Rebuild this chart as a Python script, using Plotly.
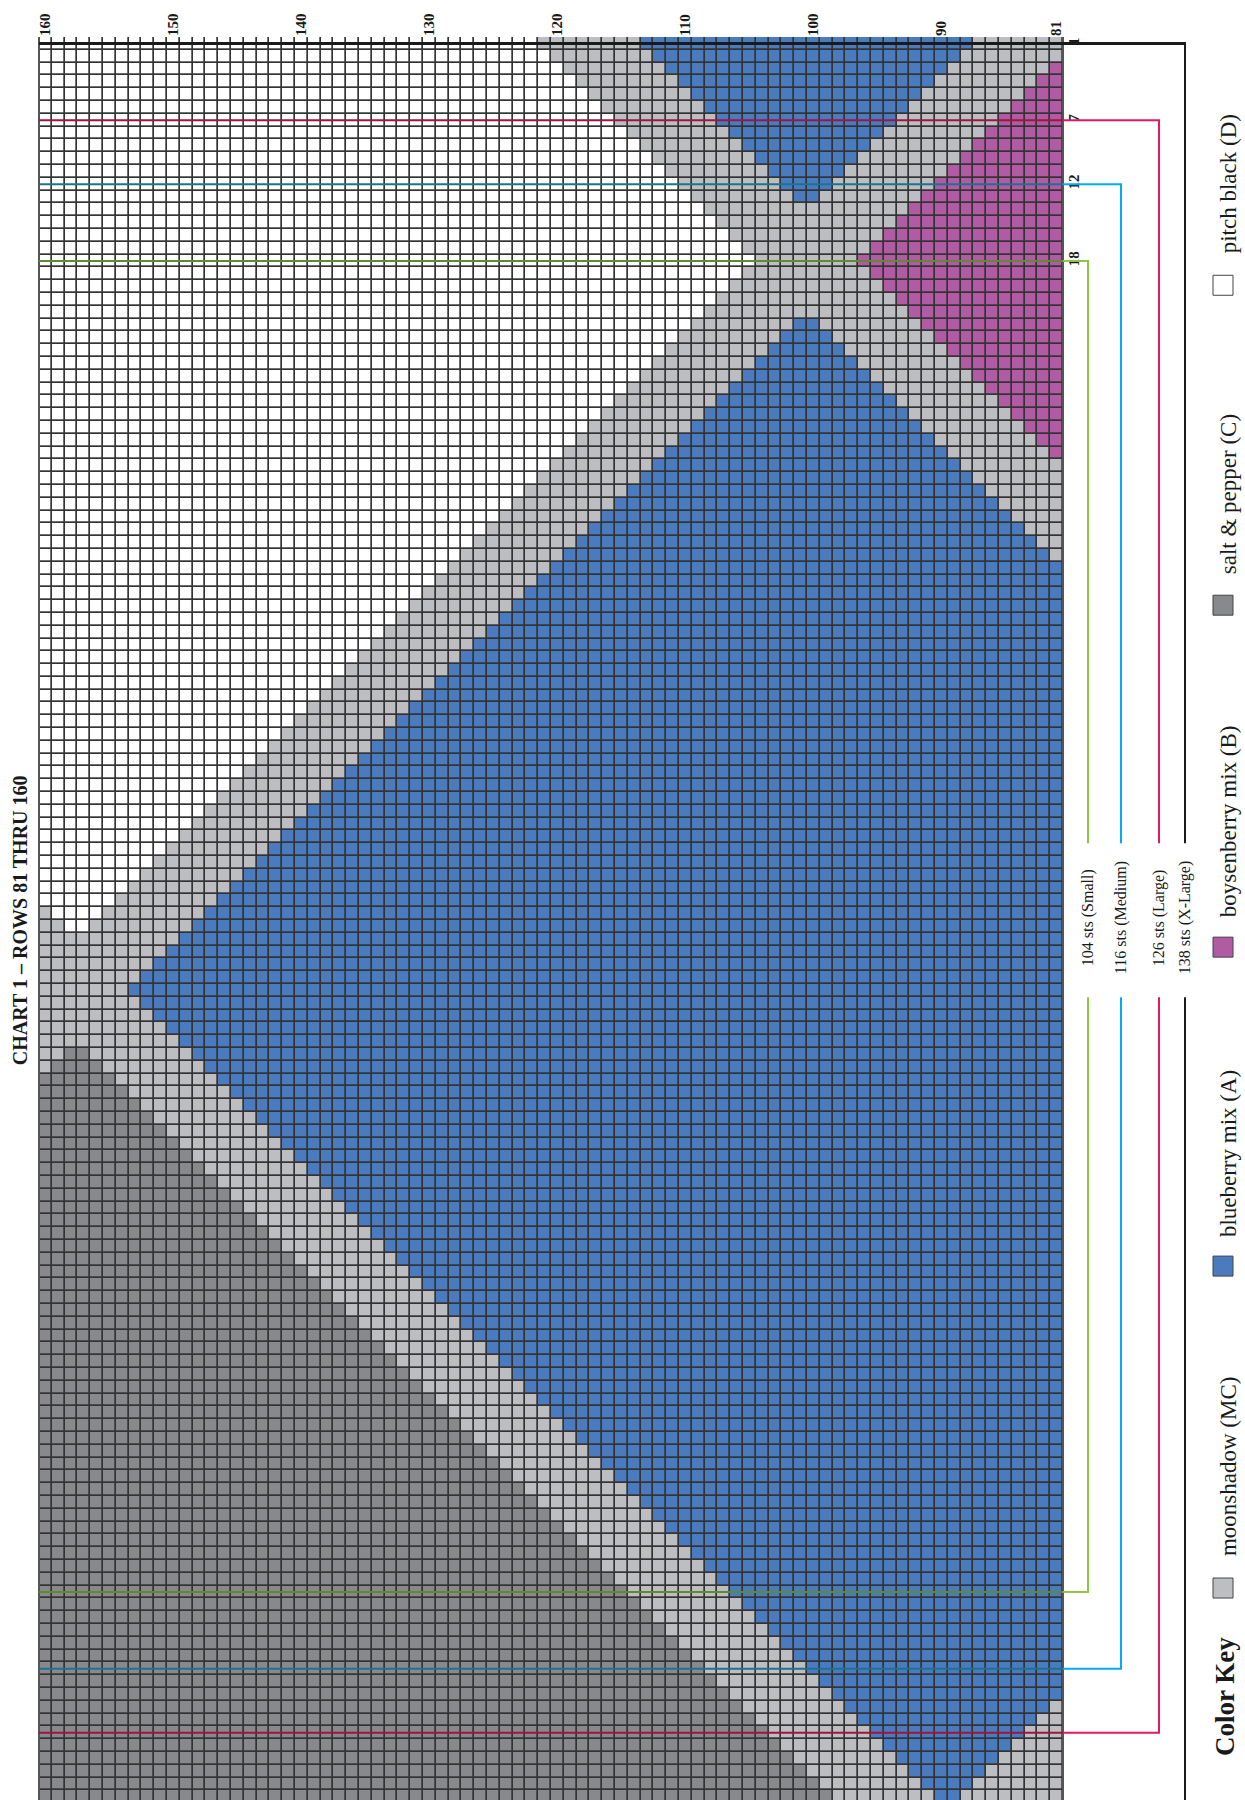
import plotly.graph_objects as go

# ---------------- data ----------------
ROWS = list(range(160, 80, -1))          # chart columns, left (row 160) to right (row 81)
STITCHES = list(range(1, 139))           # stitches 1..138, top to bottom
ROW_TICKS = [160, 150, 140, 130, 120, 110, 100, 90, 81]
STITCH_TICKS = [1, 7, 12, 18]

KEY_CODES = ["M", "A", "B", "C", "D"]
KEY_NAMES = ["moonshadow (MC)", "blueberry mix (A)", "boysenberry mix (B)",
             "salt & pepper (C)", "pitch black (D)"]
KEY_COLORS = ["#bdbec1", "#4a7bbf", "#b05ba3", "#88898d", "#ffffff"]

# colour runs for each stitch (top to bottom), read left (row 160) -> right (row 81)
CHART_RUNS = [
    "D39 M8 A26 M7", "D40 M8 A24 M8", "D41 M8 A22 M8 B1", "D42 M8 A20 M8 B2",
    "D43 M8 A18 M8 B3", "D44 M8 A16 M8 B4", "D45 M8 A14 M8 B5", "D46 M8 A12 M8 B6",
    "D47 M8 A10 M8 B7", "D48 M8 A8 M8 B8", "D49 M8 A6 M8 B9", "D50 M8 A4 M8 B10",
    "D51 M8 A2 M8 B11", "D52 M16 B12", "D53 M14 B13", "D54 M12 B14",
    "D55 M10 B15", "D56 M8 B16", "D55 M10 B15", "D54 M12 B14",
    "D53 M14 B13", "D52 M16 B12", "D51 M8 A2 M8 B11", "D50 M8 A4 M8 B10",
    "D49 M8 A6 M8 B9", "D48 M8 A8 M8 B8", "D47 M8 A10 M8 B7", "D46 M8 A12 M8 B6",
    "D45 M8 A14 M8 B5", "D44 M8 A16 M8 B4", "D43 M8 A18 M8 B3", "D42 M8 A20 M8 B2",
    "D41 M8 A22 M8 B1", "D40 M8 A24 M8", "D39 M8 A26 M7", "D38 M8 A28 M6",
    "D37 M8 A30 M5", "D36 M8 A32 M4", "D35 M8 A34 M3", "D34 M8 A36 M2",
    "D33 M8 A38 M1", "D32 M8 A40", "D31 M8 A41", "D30 M8 A42",
    "D29 M8 A43", "D28 M8 A44", "D27 M8 A45", "D26 M8 A46",
    "D25 M8 A47", "D24 M8 A48", "D23 M8 A49", "D22 M8 A50",
    "D21 M8 A51", "D20 M8 A52", "D19 M8 A53", "D18 M8 A54",
    "D17 M8 A55", "D16 M8 A56", "D15 M8 A57", "D14 M8 A58",
    "D13 M8 A59", "D12 M8 A60", "D11 M8 A61", "D10 M8 A62",
    "D9 M8 A63", "D8 M8 A64", "D7 M8 A65", "D6 M8 A66",
    "M1 D4 M8 A67", "M2 D2 M8 A68", "M11 A69", "M10 A70",
    "M9 A71", "M8 A72", "M7 A73", "M8 A72",
    "M9 A71", "M10 A70", "M11 A69", "M2 C2 M8 A68",
    "M1 C4 M8 A67", "C6 M8 A66", "C7 M8 A65", "C8 M8 A64",
    "C9 M8 A63", "C10 M8 A62", "C11 M8 A61", "C12 M8 A60",
    "C13 M8 A59", "C14 M8 A58", "C15 M8 A57", "C16 M8 A56",
    "C17 M8 A55", "C18 M8 A54", "C19 M8 A53", "C20 M8 A52",
    "C21 M8 A51", "C22 M8 A50", "C23 M8 A49", "C24 M8 A48",
    "C25 M8 A47", "C26 M8 A46", "C27 M8 A45", "C28 M8 A44",
    "C29 M8 A43", "C30 M8 A42", "C31 M8 A41", "C32 M8 A40",
    "C33 M8 A39", "C34 M8 A38", "C35 M8 A37", "C36 M8 A36",
    "C37 M8 A35", "C38 M8 A34", "C39 M8 A33", "C40 M8 A32",
    "C41 M8 A31", "C42 M8 A30", "C43 M8 A29", "C44 M8 A28",
    "C45 M8 A27", "C46 M8 A26", "C47 M8 A25", "C48 M8 A24",
    "C49 M8 A23", "C50 M8 A22", "C51 M8 A21", "C52 M8 A20",
    "C53 M8 A19", "C54 M8 A18", "C55 M8 A16 M1", "C56 M8 A14 M2",
    "C57 M8 A12 M3", "C58 M8 A10 M4", "C59 M8 A8 M5", "C60 M8 A6 M6",
    "C61 M8 A4 M7", "C62 M8 A2 M8",
]

SIZE_LABELS = ["104 sts (Small)", "116 sts (Medium)", "126 sts (Large)", "138 sts (X-Large)"]
SIZE_FIRST_ST = [18, 12, 7, 1]
SIZE_LAST_ST = [121, 127, 132, 138]
SIZE_BRIGHT = ["#8dc63f", "#00aeef", "#e5195e", "#1a1a1a"]
SIZE_DARK = ["#5d8c2c", "#1a7391", "#a0143f", "#1a1a1a"]

TITLE = "CHART 1 – ROWS 81 THRU 160"

# ---------------- build grid ----------------
code_index = {c: i for i, c in enumerate(KEY_CODES)}
Z = []
for runs in CHART_RUNS:
    row = []
    for tok in runs.split():
        row += [code_index[tok[0]]] * int(tok[1:])
    row = (row + [0] * 80)[:80]
    Z.append(row)

n = len(KEY_COLORS)
cscale = []
for i, col in enumerate(KEY_COLORS):
    cscale.append([i / n, col])
    cscale.append([(i + 1) / n, col])

# ---------------- geometry (pixels) ----------------
FIG_W, FIG_H = 1245, 1800
L, T = 39, 36.7
CELL = 12.8
W = CELL * len(ROWS)
H = FIG_H - T


def px(xp):
    return (xp - L) / W


def py(yp):
    return 1 - (yp - T) / H


def st_pix(boundary):
    return T + (boundary - 0.5) * CELL


fig = go.Figure(go.Heatmap(
    z=Z, x=ROWS, y=STITCHES, colorscale=cscale, zmin=-0.5, zmax=n - 0.5,
    showscale=False, xgap=1.7, ygap=1.7, hoverinfo="skip"))

shapes = []
# grid side edges
for xe in (0, 1):
    shapes.append(dict(type="line", xref="paper", yref="paper", x0=xe, x1=xe, y0=0, y1=1,
                       line=dict(color="#555555", width=2)))

GAP_TOP, GAP_BOT = 843, 997
VLINE_X = [1088, 1121, 1159, 1185]
for k in range(4):
    vx = VLINE_X[k]
    y_top = st_pix(SIZE_FIRST_ST[k])
    y_bot = st_pix(SIZE_LAST_ST[k] + 1)
    w = 3 if k == 3 else 2
    for yy in (y_top, y_bot):
        if yy > FIG_H:
            continue
        shapes.append(dict(type="line", xref="paper", yref="paper", x0=0, x1=1,
                           y0=py(yy), y1=py(yy), line=dict(color=SIZE_DARK[k], width=w)))
        shapes.append(dict(type="line", xref="paper", yref="paper", x0=1, x1=px(vx + 1),
                           y0=py(yy), y1=py(yy), line=dict(color=SIZE_BRIGHT[k], width=w)))
    shapes.append(dict(type="line", xref="paper", yref="paper", x0=px(vx), x1=px(vx),
                       y0=py(y_top), y1=py(GAP_TOP), line=dict(color=SIZE_BRIGHT[k], width=2)))
    shapes.append(dict(type="line", xref="paper", yref="paper", x0=px(vx), x1=px(vx),
                       y0=py(GAP_BOT), y1=py(min(y_bot, FIG_H + 5)),
                       line=dict(color=SIZE_BRIGHT[k], width=2)))

# legend swatches
KEY_SWATCH_Y = [1588, 1266, 947, 605, 285]
KEY_TEXT_Y = [1466, 1154, 821, 494, 184]
for i in range(n):
    cy = KEY_SWATCH_Y[i]
    shapes.append(dict(type="rect", xref="paper", yref="paper", x0=px(1213), x1=px(1233),
                       y0=py(cy + 10), y1=py(cy - 10), fillcolor=KEY_COLORS[i],
                       line=dict(color="#444444", width=1)))

annotations = []
SERIF = "Liberation Serif"
annotations.append(dict(text=TITLE, xref="paper", yref="paper", x=px(20), y=py(920),
                        textangle=-90, showarrow=False, xanchor="center", yanchor="middle",
                        font=dict(family=SERIF, size=20, color="#1a1a1a", weight="bold")))
for k in range(4):
    annotations.append(dict(text=SIZE_LABELS[k], xref="paper", yref="paper",
                            x=px(VLINE_X[k]), y=py(918), textangle=-90, showarrow=False,
                            xanchor="center", yanchor="middle",
                            font=dict(family=SERIF, size=16, color="#1a1a1a")))
annotations.append(dict(text="Color Key", xref="paper", yref="paper", x=px(1225), y=py(1697),
                        textangle=-90, showarrow=False, xanchor="center", yanchor="middle",
                        font=dict(family=SERIF, size=27, color="#1a1a1a", weight="bold")))
for i in range(n):
    annotations.append(dict(text=KEY_NAMES[i], xref="paper", yref="paper", x=px(1228),
                            y=py(KEY_TEXT_Y[i]), textangle=-90, showarrow=False,
                            xanchor="center", yanchor="middle",
                            font=dict(family=SERIF, size=23, color="#1a1a1a")))

tickfont = dict(family=SERIF, size=15, color="#1a1a1a", weight="bold")
fig.update_layout(
    width=FIG_W, height=FIG_H, autosize=False,
    margin=dict(l=L, t=T, r=FIG_W - L - W, b=0, pad=0),
    paper_bgcolor="white", plot_bgcolor="#333333",
    xaxis=dict(range=[160.5, 80.5], side="top", tickmode="array", tickvals=ROW_TICKS,
               ticktext=[str(v) for v in ROW_TICKS], tickangle=-90, ticks="",
               showgrid=False, zeroline=False, showline=False, tickfont=tickfont,
               fixedrange=True),
    yaxis=dict(range=[0.5 + H / CELL, 0.5], side="right", tickmode="array",
               tickvals=STITCH_TICKS, ticktext=[str(v) for v in STITCH_TICKS],
               tickangle=-90, ticks="", showgrid=False, zeroline=False, showline=False,
               tickfont=tickfont, fixedrange=True),
    shapes=shapes, annotations=annotations, showlegend=False,
)

fig.write_html("out.html", config={"displayModeBar": False},
               post_script="document.body.style.margin='0';document.body.style.overflow='hidden';")
